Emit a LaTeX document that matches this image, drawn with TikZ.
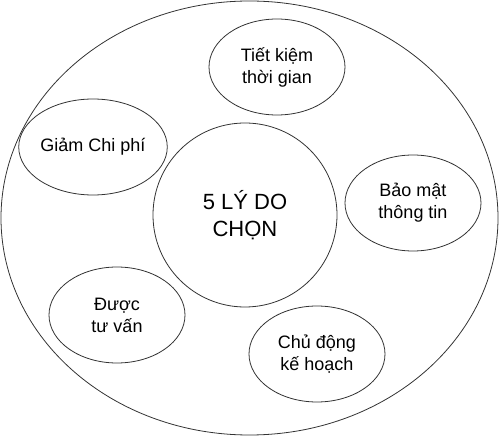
\documentclass[tikz,border=0pt]{standalone}
\usepackage{fontspec}
\setmainfont{Liberation Sans}
\usetikzlibrary{positioning,shapes.geometric}
\tikzset{
  reason/.style={draw=black!80,ellipse,line width=0.8pt,minimum width=136pt,minimum height=96pt,inner sep=0pt,align=center,font=\fontsize{18}{22}\selectfont},
  core/.style={draw=black!80,circle,line width=0.8pt,minimum size=184pt,inner sep=0pt,align=center,font=\fontsize{22}{27}\selectfont},
  frame/.style={draw=black!80,ellipse,line width=0.8pt,minimum width=497pt,minimum height=434pt,inner sep=0pt},
}
\begin{document}
\begin{tikzpicture}[x=1pt,y=-1pt]
\useasboundingbox (0,0) rectangle (499,438);
\node[frame] (outer) at (249.5,218) {};
\node[core] (center) at (245,215) {5 LÝ DO\\CHỌN};
\node[reason] (time) at (277,67) {Tiết kiệm\\thời gian};
\node[reason] (cost) at (93,147) {Giảm Chi phí};
\node[reason] (secure) at (413,203) {Bảo mật\\thông tin};
\node[reason] (advice) at (117,315) {Được\\tư vấn};
\node[reason] (plan) at (317,354) {Chủ động\\kế hoạch};
\end{tikzpicture}
\end{document}
